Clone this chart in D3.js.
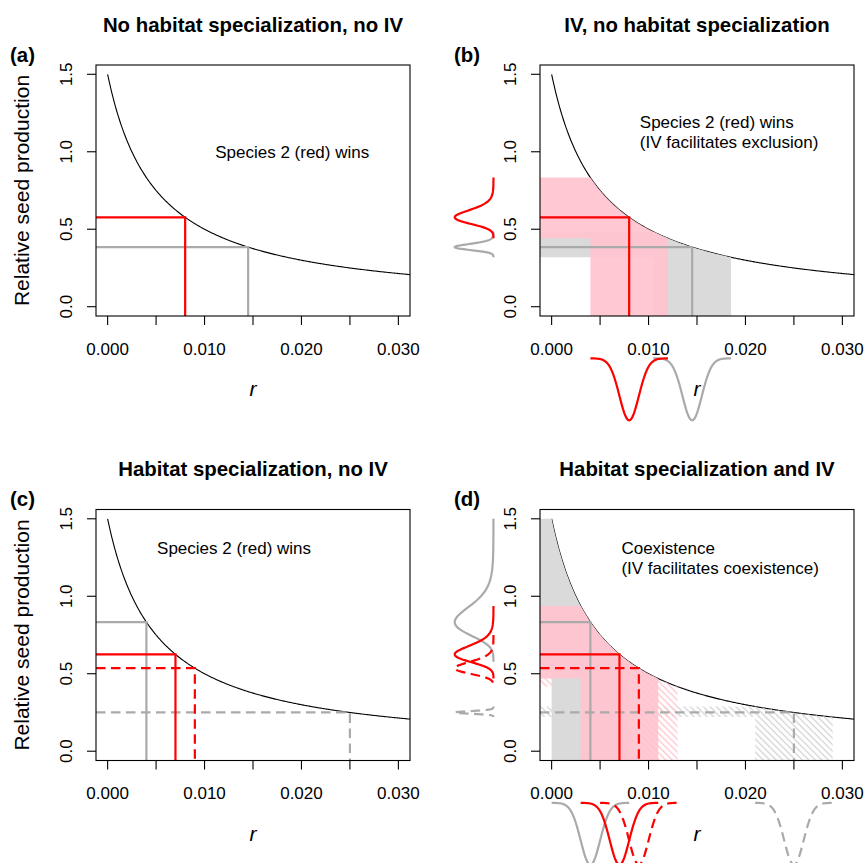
<!DOCTYPE html>
<html>
<head>
<meta charset="utf-8">
<script src="https://cdn.jsdelivr.net/npm/d3@7"></script>
<style>
  body { margin: 0; background: #fff; }
  text { font-family: "Liberation Sans", Arial, Helvetica, sans-serif; }
</style>
</head>
<body>
<svg id="chart" width="866" height="863"></svg>
<script>
// ---- Data ----
var panelTags = ['(a)', '(b)', '(c)', '(d)'];
var panelTitles = ['No habitat specialization, no IV', 'IV, no habitat specialization',
                   'Habitat specialization, no IV', 'Habitat specialization and IV'];
var panelIV = [false, true, false, true];
var noteLines = [['Species 2 (red) wins'],
                 ['Species 2 (red) wins', '(IV facilitates exclusion)'],
                 ['Species 2 (red) wins'],
                 ['Coexistence', '(IV facilitates coexistence)']];
var noteR = [0.0111, 0.0091, 0.0051, 0.0072];
var noteY = [1.0, 1.19, 1.31, 1.31];

// species order: grey solid, grey dashed, red solid, red dashed
var spColour = ['#aaaaaa', '#aaaaaa', '#ff0000', '#ff0000'];
var spFill = ['#dadada', '#dadada', '#ffc2cd', '#ffc2cd'];
var spDashed = [false, true, false, true];
var spMeanR = [
  [0.0145, null, 0.008, null],
  [0.0145, null, 0.008, null],
  [0.004, 0.025, 0.007, 0.009],
  [0.004, 0.025, 0.007, 0.009]
];
var sdR = 0.001, spreadSd = 4;

// the model curve: relative seed production = curveK / (r + curveH)
var curveK = 0.0075, curveH = 0.005;
function seed(r){ return curveK / (r + curveH); }

var xLim = [0, 0.03], yLim = [0, 1.5];
var xTicks = [0, 0.005, 0.01, 0.015, 0.02, 0.025, 0.03];
var xTickLabels = ['0.000', '', '0.010', '', '0.020', '', '0.030'];
var yTicks = [0, 0.5, 1, 1.5];
var yTickLabels = ['0.0', '0.5', '1.0', '1.5'];

// ---- Layout ----
var config = {
  boxLeft: [96, 540],
  boxTop: [65, 509.5],
  boxW: 314,
  boxH: 251,
  tick: 9,
  font: 17,
  lineW: 2.2
};

var svg = d3.select('#chart');
var defs = svg.append('defs');

// hatch patterns (the "\" lines of the dashed species)
[['hatchGrey', '#d2d2d2'], ['hatchPink', '#ffc2cd']].forEach(function(h){
  defs.append('pattern')
    .attr('id', h[0])
    .attr('patternUnits', 'userSpaceOnUse')
    .attr('width', 4.6).attr('height', 4.6)
    .attr('patternTransform', 'rotate(45)')
    .append('line')
    .attr('x1', 0).attr('y1', 2.3).attr('x2', 4.6).attr('y2', 2.3)
    .attr('stroke', h[1]).attr('stroke-width', 1.3);
});

var padX = (xLim[1] - xLim[0]) * 0.04, padY = (yLim[1] - yLim[0]) * 0.04;

panelTags.forEach(function(tag, p){
  var col = p % 2, row = Math.floor(p / 2);
  var L = config.boxLeft[col], T = config.boxTop[row];
  var x = d3.scaleLinear().domain([xLim[0] - padX, xLim[1] + padX]).range([L, L + config.boxW]);
  var y = d3.scaleLinear().domain([yLim[0] - padY, yLim[1] + padY]).range([T + config.boxH, T]);
  var xMin = x.domain()[0], yMin = y.domain()[0];
  var g = svg.append('g');

  defs.append('clipPath').attr('id', 'clip' + p)
    .append('rect').attr('x', L).attr('y', T).attr('width', config.boxW).attr('height', config.boxH);
  var plot = g.append('g').attr('clip-path', 'url(#clip' + p + ')');

  // curve
  var line = d3.line().x(function(d){ return x(d); }).y(function(d){ return y(seed(d)); });
  plot.append('path')
    .attr('d', line(d3.range(0, x.domain()[1] + 0.0002, 0.0001)))
    .attr('fill', 'none').attr('stroke', '#000').attr('stroke-width', 1.1);

  var means = spMeanR[p];
  var order = [1, 3, 0, 2]; // hatches first, then grey, then pink

  // IV shading: L-shaped region under the curve
  if(panelIV[p]){
    order.forEach(function(s){
      var m = means[s];
      if(m === null) return;
      var lo = Math.max(m - spreadSd * sdR, 0), hi = m + spreadSd * sdR;
      var pts = [[xMin, seed(lo)]];
      d3.range(0, 61).forEach(function(i){
        var r = lo + (hi - lo) * i / 60;
        pts.push([r, seed(r)]);
      });
      pts.push([hi, yMin], [lo, yMin], [lo, seed(hi)], [xMin, seed(hi)]);
      plot.append('path')
        .attr('d', 'M' + pts.map(function(d){ return x(d[0]) + ',' + y(d[1]); }).join('L') + 'Z')
        .attr('fill', spDashed[s] ? (s === 1 ? 'url(#hatchGrey)' : 'url(#hatchPink)') : spFill[s])
        .attr('fill-opacity', spDashed[s] ? 1 : (s === 2 ? 0.9 : 1));
    });
  }

  // species lines
  [0, 1, 2, 3].forEach(function(s){
    var m = means[s];
    if(m === null) return;
    plot.append('path')
      .attr('d', 'M' + x(xMin) + ',' + y(seed(m)) + 'L' + x(m) + ',' + y(seed(m)) + 'L' + x(m) + ',' + y(yMin))
      .attr('fill', 'none')
      .attr('stroke', spColour[s])
      .attr('stroke-width', config.lineW)
      .attr('stroke-dasharray', spDashed[s] ? '9.5,5.5' : null);
  });

  // box
  g.append('rect')
    .attr('x', L).attr('y', T).attr('width', config.boxW).attr('height', config.boxH)
    .attr('fill', 'none').attr('stroke', '#000').attr('stroke-width', 1.1);

  // x axis
  var yB = T + config.boxH;
  xTicks.forEach(function(t, i){
    g.append('line')
      .attr('x1', x(t)).attr('x2', x(t)).attr('y1', yB).attr('y2', yB + config.tick)
      .attr('stroke', '#000').attr('stroke-width', 1.1);
    if(xTickLabels[i]) g.append('text')
      .attr('x', x(t)).attr('y', yB + 38.5)
      .attr('text-anchor', 'middle').attr('font-size', config.font)
      .text(xTickLabels[i]);
  });
  // y axis
  yTicks.forEach(function(t, i){
    g.append('line')
      .attr('x1', L - config.tick).attr('x2', L).attr('y1', y(t)).attr('y2', y(t))
      .attr('stroke', '#000').attr('stroke-width', 1.1);
    g.append('text')
      .attr('transform', 'translate(' + (L - 24) + ',' + y(t) + ') rotate(-90)')
      .attr('text-anchor', 'middle').attr('font-size', config.font)
      .text(yTickLabels[i]);
  });

  // marginal densities of r (bottom) and seed production (left)
  if(panelIV[p]){
    var ampX = x(0.004) - x(0), baseX = x(-0.006);
    var ampY = y(0) - y(0.4), baseY = y(-1 / 3);
    [0, 1, 2, 3].forEach(function(s){
      var m = means[s];
      if(m === null) return;
      var rs = d3.range(0, 81).map(function(i){ return m - spreadSd * sdR + 2 * spreadSd * sdR * i / 80; });
      var dens = function(r){ var z = (r - m) / sdR; return Math.exp(-z * z / 2); };
      var leftLine = d3.line()
        .x(function(r){ return baseX - ampX * dens(r); })
        .y(function(r){ return y(seed(r)); });
      var botLine = d3.line()
        .x(function(r){ return x(r); })
        .y(function(r){ return baseY + ampY * dens(r); });
      [leftLine, botLine].forEach(function(ln){
        g.append('path')
          .attr('d', ln(rs))
          .attr('fill', 'none')
          .attr('stroke', spColour[s])
          .attr('stroke-width', config.lineW)
          .attr('stroke-dasharray', spDashed[s] ? '9.5,5.5' : null);
      });
    });
  }

  // axis titles
  g.append('text')
    .attr('x', L + config.boxW / 2).attr('y', yB + 80)
    .attr('text-anchor', 'middle').attr('font-size', 21).attr('font-style', 'italic')
    .text('r');
  if(col === 0){
    g.append('text')
      .attr('transform', 'translate(29,' + (T + config.boxH / 2) + ') rotate(-90)')
      .attr('text-anchor', 'middle').attr('font-size', 21)
      .text('Relative seed production');
  }

  // title and tag
  g.append('text')
    .attr('x', L + config.boxW / 2).attr('y', T - 33.5)
    .attr('text-anchor', 'middle').attr('font-size', 20.4).attr('font-weight', 'bold')
    .text(panelTitles[p]);
  g.append('text')
    .attr('x', L - 86).attr('y', T - 3.5)
    .attr('font-size', 20.4).attr('font-weight', 'bold')
    .text(tag);

  // annotation
  noteLines[p].forEach(function(t, i){
    g.append('text')
      .attr('x', x(noteR[p])).attr('y', y(noteY[p]) + 6 + i * 19.4)
      .attr('font-size', config.font)
      .text(t);
  });
});
</script>
</body>
</html>
